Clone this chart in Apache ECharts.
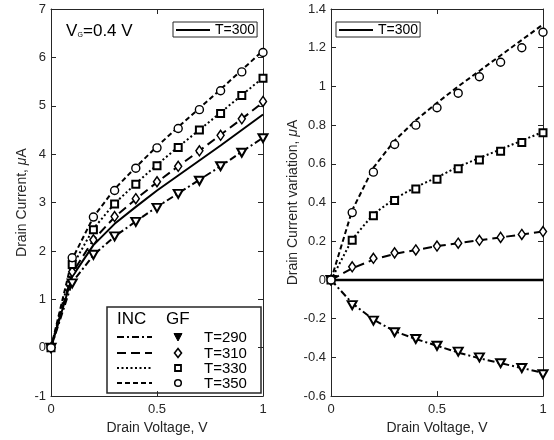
<!DOCTYPE html>
<html>
<head>
<meta charset="utf-8">
<script src="https://cdn.jsdelivr.net/npm/echarts@6/dist/echarts.min.js"></script>
<style>
  html, body { margin: 0; padding: 0; background: #fff; }
  #chart { width: 554px; height: 440px; }
</style>
</head>
<body>
<div id="chart"></div>
<script>
// Drain voltage sweep (V)
const drainVoltage = [0, 0.1, 0.2, 0.3, 0.4, 0.5, 0.6, 0.7, 0.8, 0.9, 1.0];

// Left panel: drain current (uA), INC model curves
const incI290 = [0, 1.35, 1.91, 2.30, 2.61, 2.91, 3.19, 3.47, 3.75, 4.05, 4.34];
const incI300 = [0, 1.47, 2.12, 2.56, 2.91, 3.25, 3.56, 3.87, 4.18, 4.50, 4.82];
const incI310 = [0, 1.54, 2.23, 2.70, 3.07, 3.42, 3.75, 4.07, 4.40, 4.73, 5.07];
const incI330 = [0, 1.68, 2.46, 2.98, 3.39, 3.78, 4.15, 4.50, 4.86, 5.22, 5.58];
const incI350 = [0, 1.83, 2.70, 3.28, 3.73, 4.16, 4.56, 4.95, 5.34, 5.74, 6.14];

// Left panel: drain current (uA), GF points
const gfI290 = [0, 1.33, 1.92, 2.30, 2.60, 2.89, 3.18, 3.45, 3.75, 4.03, 4.33];
const gfI310 = [0, 1.57, 2.23, 2.71, 3.08, 3.43, 3.75, 4.07, 4.39, 4.73, 5.09];
const gfI330 = [0, 1.72, 2.44, 2.97, 3.38, 3.76, 4.14, 4.50, 4.84, 5.21, 5.57];
const gfI350 = [0, 1.86, 2.70, 3.25, 3.71, 4.13, 4.53, 4.92, 5.31, 5.70, 6.10];

// Right panel: drain current variation (uA) relative to T=300, INC curves
const incD290 = [0, -0.12, -0.205, -0.265, -0.305, -0.34, -0.375, -0.405, -0.43, -0.455, -0.48];
const incD300 = [0, 0, 0, 0, 0, 0, 0, 0, 0, 0, 0];
const incD310 = [0, 0.06, 0.105, 0.135, 0.155, 0.175, 0.19, 0.205, 0.22, 0.235, 0.25];
const incD330 = [0, 0.21, 0.34, 0.42, 0.48, 0.53, 0.585, 0.63, 0.675, 0.72, 0.765];
const incD350 = [0, 0.36, 0.58, 0.72, 0.825, 0.915, 1.0, 1.08, 1.16, 1.24, 1.32];

// Right panel: drain current variation (uA), GF points
const gfD290 = [0, -0.13, -0.21, -0.27, -0.305, -0.34, -0.37, -0.40, -0.43, -0.455, -0.487];
const gfD310 = [0, 0.068, 0.112, 0.14, 0.155, 0.175, 0.19, 0.205, 0.22, 0.235, 0.25];
const gfD330 = [0, 0.205, 0.332, 0.41, 0.47, 0.52, 0.575, 0.62, 0.665, 0.71, 0.76];
const gfD350 = [0, 0.348, 0.557, 0.70, 0.80, 0.89, 0.965, 1.05, 1.125, 1.20, 1.28];

const FONT = '"Liberation Sans", Arial, Helvetica, sans-serif';
const AXIS = '#262626';

// Line dash patterns per temperature
const DASH = {
  290: [7, 3, 2, 3],
  310: [9, 5],
  330: [2, 2.5],
  350: [5, 3]
};

const pairs = ys => drainVoltage.map((x, i) => [x, ys[i]]);
const fmt = v => String(Math.round(v * 10) / 10);

function incLine(name, ys, axis, dash, width) {
  return {
    name, type: 'line', data: pairs(ys), xAxisIndex: axis, yAxisIndex: axis,
    symbol: 'none', silent: true, z: 3,
    itemStyle: { color: '#000' },
    lineStyle: { color: '#000', width: width || 2, type: dash || 'solid' }
  };
}

function gfMarks(ys, axis, kind) {
  const base = {
    type: 'scatter', data: pairs(ys), xAxisIndex: axis, yAxisIndex: axis,
    silent: true, z: 5,
    itemStyle: { color: '#fff', borderColor: '#000', borderWidth: 1.5, opacity: 1 }
  };
  if (kind === 'tri') {
    base.symbol = 'triangle'; base.symbolSize = [9, 8]; base.symbolRotate = 180;
    base.itemStyle.borderWidth = 2;
  } else if (kind === 'dia') {
    base.symbol = 'diamond'; base.symbolSize = [7, 10];
  } else if (kind === 'sq') {
    base.symbol = 'rect'; base.symbolSize = 7; base.itemStyle.borderWidth = 2;
  } else {
    base.symbol = 'circle'; base.symbolSize = 8; base.itemStyle.borderWidth = 1.4;
  }
  return base;
}

function xAxes(grid) {
  const common = {
    gridIndex: grid, type: 'value', min: 0, max: 1, interval: 0.5,
    splitLine: { show: false },
    axisLine: { onZero: false, lineStyle: { color: AXIS, width: 1 } },
    axisTick: { inside: true, length: 5, lineStyle: { color: AXIS } }
  };
  return [
    Object.assign({}, common, {
      position: 'bottom',
      axisLabel: { margin: 7, fontSize: 13, color: AXIS, fontFamily: FONT, formatter: fmt },
      name: 'Drain Voltage, V', nameLocation: 'middle', nameGap: 21,
      nameTextStyle: { fontSize: 14, color: AXIS, fontFamily: FONT }
    }),
    Object.assign({}, common, { position: 'top', axisLabel: { show: false } })
  ];
}

function yAxes(grid, min, max, interval, name, gap) {
  const common = {
    gridIndex: grid, type: 'value', min, max, interval,
    splitLine: { show: false },
    axisLine: { onZero: false, lineStyle: { color: AXIS, width: 1 } },
    axisTick: { inside: true, length: 5, lineStyle: { color: AXIS } }
  };
  return [
    Object.assign({}, common, {
      position: 'left',
      axisLabel: { margin: 5, fontSize: 13, color: AXIS, fontFamily: FONT, formatter: fmt },
      name, nameLocation: 'middle', nameGap: gap, nameRotate: 90,
      nameTextStyle: {
        fontSize: 14, color: AXIS, fontFamily: FONT,
        rich: { i: { fontSize: 14, fontStyle: 'italic', color: AXIS, fontFamily: FONT } }
      }
    }),
    Object.assign({}, common, { position: 'right', axisLabel: { show: false } })
  ];
}

const chart = echarts.init(document.getElementById('chart'), null, { renderer: 'canvas' });

// Bottom-left legend box for the INC / GF series
const LG = { x: 107, y: 307, w: 154, h: 86 };
const rowsY = [337, 353, 368, 383];
const rowT = ['T=290', 'T=310', 'T=330', 'T=350'];
const rowDash = [DASH[290], DASH[310], DASH[330], DASH[350]];
const legendEls = [
  { type: 'rect', shape: { x: LG.x, y: LG.y, width: LG.w, height: LG.h },
    style: { fill: '#fff', stroke: '#262626', lineWidth: 1.5 } },
  { type: 'text', x: 117, y: 319, style: { text: 'INC', font: '17px ' + FONT, fill: '#000', verticalAlign: 'middle' } },
  { type: 'text', x: 166, y: 319, style: { text: 'GF', font: '17px ' + FONT, fill: '#000', verticalAlign: 'middle' } }
];
rowsY.forEach((yy, k) => {
  legendEls.push({ type: 'line', shape: { x1: 117, y1: yy, x2: 152, y2: yy },
    style: { stroke: '#000', lineWidth: 2, lineDash: rowDash[k] } });
  legendEls.push({ type: 'text', x: 204, y: yy + 1,
    style: { text: rowT[k], font: '15px ' + FONT, fill: '#000', verticalAlign: 'middle' } });
});
const mx = 178;
legendEls.push({ type: 'polygon', shape: { points: [[mx - 4, rowsY[0] - 3.5], [mx + 4, rowsY[0] - 3.5], [mx, rowsY[0] + 4]] },
  style: { fill: '#000', stroke: '#000', lineWidth: 1 } });
legendEls.push({ type: 'polygon', shape: { points: [[mx, rowsY[1] - 4.5], [mx + 3.5, rowsY[1]], [mx, rowsY[1] + 4.5], [mx - 3.5, rowsY[1]]] },
  style: { fill: '#fff', stroke: '#000', lineWidth: 1.6 } });
legendEls.push({ type: 'rect', shape: { x: mx - 3, y: rowsY[2] - 3, width: 6, height: 6 },
  style: { fill: '#fff', stroke: '#000', lineWidth: 1.8 } });
legendEls.push({ type: 'circle', shape: { cx: mx, cy: rowsY[3], r: 3.3 },
  style: { fill: '#fff', stroke: '#000', lineWidth: 1.5 } });

function topLegend(left) {
  return {
    data: [{ name: 'T=300', icon: 'rect', itemStyle: { color: '#000' } }],
    left, top: 22, itemWidth: 34, itemHeight: 2, padding: [1, 2, 0, 3],
    borderColor: '#262626', borderWidth: 1, backgroundColor: '#fff', selectedMode: false,
    textStyle: { fontSize: 14, color: '#000', fontFamily: FONT, lineHeight: 14 }
  };
}

const option = {
  backgroundColor: '#fff',
  animation: false,
  textStyle: { fontFamily: FONT },
  grid: [
    { left: 51, right: 291, top: 9, bottom: 41 },
    { left: 331, right: 11, top: 9, bottom: 41 }
  ],
  xAxis: [...xAxes(0), ...xAxes(1)],
  yAxis: [
    ...yAxes(0, -1, 7, 1, 'Drain Current, {i|μ}A', 22),
    ...yAxes(1, -0.6, 1.4, 0.2, 'Drain Current variation, {i|μ}A', 28)
  ],
  legend: [topLegend(173), topLegend(336)],
  graphic: [
    { type: 'text', x: 66, y: 31, z: 10, style: { text: 'V', font: '17px ' + FONT, fill: '#000', verticalAlign: 'middle' } },
    { type: 'text', x: 77.5, y: 35, z: 10, style: { text: 'G', font: '7px ' + FONT, fill: '#000', verticalAlign: 'middle' } },
    { type: 'text', x: 83, y: 31, z: 10, style: { text: '=0.4 V', font: '17px ' + FONT, fill: '#000', verticalAlign: 'middle' } },
    { type: 'group', z: 20, children: legendEls }
  ],
  series: [
    // left panel
    incLine('T=290', incI290, 0, DASH[290]),
    incLine('T=310', incI310, 0, DASH[310]),
    incLine('T=330', incI330, 0, DASH[330]),
    incLine('T=350', incI350, 0, DASH[350]),
    incLine('T=300', incI300, 0, 'solid', 2),
    gfMarks(gfI290, 0, 'tri'),
    gfMarks(gfI310, 0, 'dia'),
    gfMarks(gfI330, 0, 'sq'),
    gfMarks(gfI350, 0, 'circ'),
    // right panel
    incLine('T=290', incD290, 2, DASH[290]),
    incLine('T=310', incD310, 2, DASH[310]),
    incLine('T=330', incD330, 2, DASH[330]),
    incLine('T=350', incD350, 2, DASH[350]),
    incLine('T=300', incD300, 2, 'solid', 2.5),
    gfMarks(gfD290, 2, 'tri'),
    gfMarks(gfD310, 2, 'dia'),
    gfMarks(gfD330, 2, 'sq'),
    gfMarks(gfD350, 2, 'circ')
  ]
};

chart.setOption(option);
</script>
</body>
</html>
